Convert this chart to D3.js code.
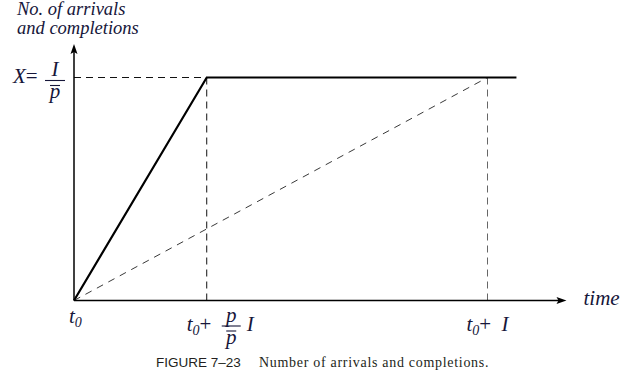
<!DOCTYPE html>
<html>
<head>
<meta charset="utf-8">
<script src="https://cdn.jsdelivr.net/npm/d3@7.9.0/dist/d3.min.js"></script>
<style>
  body { margin: 0; background: #fff; }
  svg { display: block; }
  .lbl { font-family: 'Liberation Serif', 'Times New Roman', serif; font-style: italic; fill: #16163a; }
</style>
</head>
<body>
<svg id="chart" width="637" height="375"></svg>
<script>
// time in units of I after t0, count in units of X
const tickTimes = [0, 0.321, 1];
const arrivalsLine = [[0, 0], [0.321, 1], [1.07, 1]];
const completionsLine = [[0, 0], [1, 1]];
const xLevel = 1;
const axisMax = { time: 1.191, count: 1.15 };
const yLabelLines = ['No. of arrivals', 'and completions'];
const caption = { fig: 'FIGURE 7\u201323', text: 'Number of arrivals and completions.' };

const svg = d3.select('#chart');

const x = d3.scaleLinear().domain([0, 1]).range([74, 487.5]);
const y = d3.scaleLinear().domain([0, 1]).range([300.5, 77.5]);

const line = d3.line().x((d) => x(d[0])).y((d) => y(d[1]));

// reference dashes
svg.append('line')
  .attr('x1', x(0)).attr('x2', x(tickTimes[1]))
  .attr('y1', y(xLevel)).attr('y2', y(xLevel))
  .attr('stroke', '#111').attr('stroke-width', 1).attr('stroke-dasharray', '7,5');

tickTimes.slice(1).forEach((t, i) => {
  svg.append('line')
    .attr('x1', x(t)).attr('x2', x(t))
    .attr('y1', y(xLevel)).attr('y2', y(0))
    .attr('stroke', i === 0 ? '#111' : '#666')
    .attr('stroke-width', 1)
    .attr('stroke-dasharray', '7,5');
});

svg.append('path')
  .datum(completionsLine)
  .attr('d', line)
  .attr('fill', 'none')
  .attr('stroke', '#222')
  .attr('stroke-width', 0.9)
  .attr('stroke-dasharray', '7,6');

svg.append('path')
  .datum(arrivalsLine)
  .attr('d', line)
  .attr('fill', 'none')
  .attr('stroke', '#000')
  .attr('stroke-width', 2.2);

// axes
const x0 = x(0), y0 = y(0);
const xEnd = x(axisMax.time), yEnd = y(axisMax.count);

svg.append('line')
  .attr('x1', x0).attr('x2', x0).attr('y1', y0).attr('y2', yEnd + 6)
  .attr('stroke', '#000').attr('stroke-width', 1.5);
svg.append('path')
  .attr('d', `M${x0},${yEnd} L${x0 - 3.5},${yEnd + 10} L${x0},${yEnd + 8} L${x0 + 3.5},${yEnd + 10} Z`)
  .attr('fill', '#000');

svg.append('line')
  .attr('x1', x0).attr('x2', xEnd - 6).attr('y1', y0).attr('y2', y0)
  .attr('stroke', '#000').attr('stroke-width', 1.5);
svg.append('path')
  .attr('d', `M${xEnd},${y0} L${xEnd - 10},${y0 - 3.5} L${xEnd - 8},${y0} L${xEnd - 10},${y0 + 3.5} Z`)
  .attr('fill', '#000');

// axis titles
const yTitle = svg.append('text').attr('class', 'lbl').attr('font-size', 18.5);
yLabelLines.forEach((s, i) => {
  yTitle.append('tspan').attr('x', 17).attr('y', 15 + i * 18.5).text(s);
});

svg.append('text').attr('class', 'lbl')
  .attr('x', xEnd + 17).attr('y', y0 + 4)
  .attr('font-size', 21)
  .text('time');

// helpers for fractions and t0 labels
function fraction(cx, top, num, den, w, size) {
  svg.append('text').attr('class', 'lbl')
    .attr('x', cx).attr('y', top).attr('text-anchor', 'middle')
    .attr('font-size', size).text(num);
  svg.append('line')
    .attr('x1', cx - w / 2).attr('x2', cx + w / 2)
    .attr('y1', top + 4.5).attr('y2', top + 4.5)
    .attr('stroke', '#16163a').attr('stroke-width', 1.1);
  svg.append('line')
    .attr('x1', cx - 5).attr('x2', cx + 5)
    .attr('y1', top + 9.5).attr('y2', top + 9.5)
    .attr('stroke', '#16163a').attr('stroke-width', 1.1);
  svg.append('text').attr('class', 'lbl')
    .attr('x', cx).attr('y', top + 22).attr('text-anchor', 'middle')
    .attr('font-size', size).text(den);
}

function tZero(xPos, base, plus) {
  const t = svg.append('text').attr('class', 'lbl')
    .attr('x', xPos).attr('y', base).attr('font-size', 21);
  t.append('tspan').text('t');
  t.append('tspan').attr('font-size', 14).attr('dy', 4).text('0');
  if (plus) t.append('tspan').attr('dy', -4).attr('font-style', 'normal').text('+');
}

// y tick: X = I / p̄
const yTick = svg.append('text').attr('class', 'lbl')
  .attr('x', 13).attr('y', y(xLevel) + 5.5).attr('font-size', 21);
yTick.append('tspan').text('X');
yTick.append('tspan').attr('font-style', 'normal').text('=');
fraction(55, y(xLevel) - 1.5, 'I', 'p', 20, 21);

// x ticks
tZero(x(tickTimes[0]) - 5, y0 + 22, false);
tZero(x(tickTimes[1]) - 20, y0 + 30.5, true);
fraction(x(tickTimes[1]) + 24.5, y0 + 21, 'p', 'p', 19, 21);
svg.append('text').attr('class', 'lbl')
  .attr('x', x(tickTimes[1]) + 40).attr('y', y0 + 30.5)
  .attr('font-size', 21).text('I');
tZero(x(tickTimes[2]) - 21, y0 + 30.5, true);
svg.append('text').attr('class', 'lbl')
  .attr('x', x(tickTimes[2]) + 14).attr('y', y0 + 30.5)
  .attr('font-size', 21).text('I');

// caption
svg.append('text')
  .attr('x', 156).attr('y', 366.5)
  .attr('font-family', "'Liberation Sans', Arial, sans-serif")
  .attr('font-size', 13.5)
  .attr('fill', '#231f20')
  .text(caption.fig);
svg.append('text')
  .attr('x', 259).attr('y', 366.5)
  .attr('font-family', "'Liberation Serif', 'Times New Roman', serif")
  .attr('font-size', 14)
  .attr('letter-spacing', 0.7)
  .attr('fill', '#231f20')
  .text(caption.text);
</script>
</body>
</html>
